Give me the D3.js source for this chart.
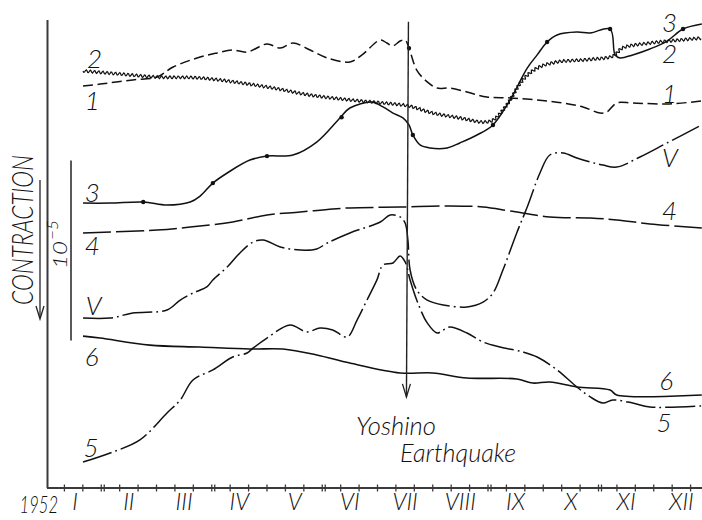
<!DOCTYPE html>
<html><head><meta charset="utf-8">
<script src="https://cdn.jsdelivr.net/npm/d3@7"></script>
<style>
html,body{margin:0;padding:0;background:#fff;}
svg{display:block;}
text{font-family:"Lato","DejaVu Sans Condensed",sans-serif;font-weight:300;font-style:italic;fill:#111;}
</style></head><body>
<svg id="chart" width="702" height="520"></svg>
<script>
// x: months since 1 Jan 1952 ; y: contraction in units of 1e-6 (downward = contraction)
const monthLabels = ["I","II","III","IV","V","VI","VII","VIII","IX","X","XI","XII"];
const yearLabel = "1952";
const quakeMonth = 6.56;
const quakeTop = 0.1, quakeTip = 20.94;
const scaleBarTop = 7.8, scaleBarLen = 10; // 10 x 1e-6 = 1e-5
const doubleTickMonths = [1,3,5,8,10];

const curve1 = [[0.67,3.67],[0.98,3.56],[1.57,3.33],[2.01,3.17],[2.30,2.61],[2.79,2.06],[3.10,1.83],[3.38,1.67],[3.64,1.78],[4.00,1.33],[4.24,1.56],[4.47,1.28],[4.78,1.67],[5.09,2.11],[5.50,2.33],[5.72,1.94],[6.05,1.11],[6.17,1.28],[6.28,1.44],[6.41,1.17],[6.50,1.11],[6.57,1.56],[6.71,2.78],[6.90,3.44],[7.08,3.78],[7.31,3.78],[7.62,4.00],[7.98,4.28],[8.40,4.33],[8.89,4.44],[9.36,4.61],[9.72,4.83],[10.03,5.17],[10.15,5.11],[10.33,4.61],[10.62,4.61],[11.24,4.67],[11.87,4.50]];
const curve2 = [[0.67,2.83],[1.34,3.00],[2.01,3.17],[2.79,3.22],[4.00,3.72],[4.78,4.17],[5.50,4.44],[6.10,4.61],[6.57,4.78],[7.00,5.17],[7.49,5.44],[7.91,5.67],[8.09,5.56],[8.34,4.72],[8.63,3.33],[8.89,2.67],[9.25,2.33],[9.72,2.22],[10.21,2.06],[10.30,1.94],[10.43,1.56],[10.93,1.28],[11.48,1.11],[11.87,1.00]];
const curve3 = [[0.67,10.17],[1.16,10.17],[1.76,10.11],[2.19,10.28],[2.61,10.11],[2.79,9.78],[3.02,9.06],[3.28,8.50],[3.69,7.78],[4.00,7.56],[4.47,7.50],[4.90,6.78],[5.32,5.44],[5.50,4.89],[5.90,4.56],[6.10,4.83],[6.28,5.17],[6.46,5.44],[6.57,5.83],[6.64,6.39],[6.77,6.94],[6.95,7.11],[7.26,7.11],[7.49,6.83],[7.80,6.39],[8.09,5.83],[8.40,4.44],[8.71,2.67],[8.89,1.94],[9.07,1.22],[9.25,0.83],[9.61,0.67],[9.85,0.72],[10.21,0.50],[10.30,1.94],[10.39,2.11],[10.62,1.94],[10.93,1.61],[11.24,1.17],[11.53,0.50],[11.87,0.22]];
const curve3Dots = [[1.76,10.11],[3.02,9.06],[4.00,7.56],[5.35,5.40],[6.64,6.39],[8.09,5.83],[9.07,1.22],[10.21,0.50],[11.53,0.50]];
const curve1Dots = [[6.57,1.56]];
const curve4 = [[0.67,11.83],[2.01,11.67],[2.61,11.50],[3.38,11.22],[4.00,10.83],[4.60,10.67],[5.19,10.50],[5.50,10.44],[6.41,10.39],[7.31,10.33],[7.91,10.39],[8.40,10.61],[9.12,10.94],[9.85,11.00],[10.33,11.11],[10.93,11.33],[11.87,11.56]];
const curveV = [[0.67,16.56],[1.16,16.56],[1.57,16.28],[2.19,16.11],[2.43,15.56],[2.66,15.17],[2.91,14.83],[3.02,14.44],[3.28,13.72],[3.51,12.94],[3.75,12.33],[3.93,12.22],[4.24,12.61],[4.60,12.78],[4.90,12.72],[5.09,12.39],[5.50,11.83],[6.05,11.22],[6.23,10.83],[6.41,10.94],[6.50,11.28],[6.55,12.22],[6.59,13.89],[6.71,15.00],[6.90,15.56],[7.19,15.83],[7.62,15.94],[7.91,15.67],[8.09,15.17],[8.27,13.89],[8.52,11.83],[8.71,10.39],[8.94,8.50],[9.12,7.50],[9.36,7.39],[9.61,7.67],[9.85,7.89],[10.08,8.06],[10.33,8.17],[10.75,7.61],[11.24,6.83],[11.87,5.83]];
const curve5 = [[0.67,24.56],[1.21,24.00],[1.70,23.33],[2.19,21.83],[2.43,21.11],[2.66,20.00],[3.02,19.44],[3.38,18.72],[3.64,18.50],[3.75,18.22],[4.00,17.67],[4.42,16.94],[4.72,17.33],[4.96,17.11],[5.19,17.22],[5.45,17.61],[5.63,16.67],[5.81,15.56],[5.99,14.44],[6.10,13.61],[6.28,13.50],[6.41,13.11],[6.50,13.44],[6.59,14.44],[6.71,15.56],[6.90,16.83],[7.08,17.39],[7.19,17.22],[7.31,17.06],[7.62,17.39],[7.91,17.89],[8.22,18.17],[8.63,18.44],[8.89,18.72],[9.25,19.44],[9.61,20.39],[9.85,20.94],[10.08,21.28],[10.26,21.11],[10.62,21.28],[10.93,21.50],[11.87,21.44]];
const curve6 = [[0.67,17.56],[0.98,17.67],[1.88,18.06],[2.79,18.17],[3.69,18.28],[4.29,18.28],[4.90,18.61],[5.50,19.06],[6.41,19.61],[7.00,19.61],[7.62,19.89],[8.52,19.94],[8.81,20.17],[9.12,20.11],[9.61,20.39],[10.21,20.56],[10.33,20.83],[11.87,20.83]];

const leftLabels = [["2",0.74,2.67],["1",0.70,5.00],["3",0.70,10.11],["4",0.70,13.06],["V",0.72,16.39],["6",0.70,19.22],["5",0.68,24.28]];
const rightLabels = [["3",11.15,0.67],["2",11.15,2.39],["1",11.15,4.61],["V",11.15,8.17],["4",11.15,11.11],["6",11.10,20.56],["5",11.05,22.89]];

const svg = d3.select("#chart");
const x = d3.scaleLinear().domain([0,12]).range([46,709]);
const y = d3.scaleLinear().domain([0,26]).range([20,488]);

const line = d3.line().x(d=>x(d[0])).y(d=>y(d[1])).curve(d3.curveCatmullRom.alpha(0.5));

// axes frame
const axisColor = "#3a3a3a";
svg.append("line").attr("x1",47.5).attr("x2",47.5).attr("y1",y(0)).attr("y2",y(26)).attr("stroke",axisColor).attr("stroke-width",2);
svg.append("line").attr("x1",47).attr("x2",702).attr("y1",y(26)).attr("y2",y(26)).attr("stroke",axisColor).attr("stroke-width",2);

// ticks every third of a month
const ticks = d3.range(0,37).map(k=>k/3);
svg.append("g").selectAll("line").data(ticks.filter(t=>t>0.1)).join("line")
  .attr("x1",d=>x(d)).attr("x2",d=>x(d)).attr("y1",y(26)-3.5).attr("y2",y(26)+3.5)
  .attr("stroke",axisColor).attr("stroke-width",1.3);
svg.append("g").selectAll("line").data(doubleTickMonths).join("line")
  .attr("x1",d=>x(d)+3).attr("x2",d=>x(d)+3).attr("y1",y(26)-3.5).attr("y2",y(26)+3.5)
  .attr("stroke",axisColor).attr("stroke-width",1.3);

// month labels
svg.append("g").selectAll("text").data(monthLabels).join("text")
  .attr("x",(d,i)=>x(i+0.5)+(i===0?1.5:0)).attr("y",510).attr("text-anchor","middle")
  .attr("font-size",23).text(d=>d);
svg.append("text").attr("transform","translate(58,513) scale(0.72,1)").attr("text-anchor","end")
  .attr("font-size",23).text(yearLabel);

// CONTRACTION label + arrow
svg.append("text").attr("transform",`translate(33,${230}) rotate(-90)`).attr("text-anchor","middle")
  .attr("font-size",29).attr("textLength",150).attr("lengthAdjust","spacingAndGlyphs").text("CONTRACTION");
svg.append("line").attr("x1",40).attr("x2",40).attr("y1",180).attr("y2",318).attr("stroke","#222").attr("stroke-width",1.3);
svg.append("path").attr("d","M36,306 L40,319 L44,306").attr("fill","none").attr("stroke","#222").attr("stroke-width",1.3);

// scale bar 10^-5
svg.append("line").attr("x1",71).attr("x2",71).attr("y1",y(scaleBarTop)).attr("y2",y(scaleBarTop+scaleBarLen)).attr("stroke","#222").attr("stroke-width",1.5);
svg.append("text").attr("transform","translate(67,269) rotate(-90)").attr("font-size",20)
  .attr("textLength",28).attr("lengthAdjust","spacingAndGlyphs").text("10");
svg.append("text").attr("transform","translate(58,240) rotate(-90)").attr("font-size",16)
  .attr("textLength",20).attr("lengthAdjust","spacingAndGlyphs").text("−5");

// curves
const ink = "#111";
function draw(data, dash, sw){
  return svg.append("path").attr("d",line(data)).attr("fill","none").attr("stroke",ink)
    .attr("stroke-width",sw||1.5).attr("stroke-dasharray",dash||null).attr("stroke-linejoin","round");
}
draw(curve1,"10,4.5");
draw(curve3,null);
draw(curve4,"28,5");
draw(curveV,"30,4,1.8,4");
draw(curve5,"30,4,1.8,4");
draw(curve6,null,1.6);

// wavy curve 2
const base2 = svg.append("path").attr("d",line(curve2)).attr("fill","none").attr("stroke","none");
(function(){
  const node = base2.node(); const L = node.getTotalLength(); const pts=[];
  for(let s=0;s<=L;s+=0.8){
    const p=node.getPointAtLength(s);
    const a=node.getPointAtLength(Math.max(0,s-0.6)), b=node.getPointAtLength(Math.min(L,s+0.6));
    const dx=b.x-a.x, dy=b.y-a.y, n=Math.hypot(dx,dy)||1;
    const off=1.4*Math.sin(2*Math.PI*s/4.2);
    pts.push([p.x-dy/n*off, p.y+dx/n*off]);
  }
  svg.append("path").attr("d",d3.line()(pts)).attr("fill","none").attr("stroke",ink).attr("stroke-width",1.2);
})();

// dots
svg.append("g").selectAll("circle").data(curve3Dots.concat(curve1Dots)).join("circle")
  .attr("cx",d=>x(d[0])).attr("cy",d=>y(d[1])).attr("r",2.2).attr("fill",ink);

// earthquake arrow
svg.append("line").attr("x1",x(quakeMonth)).attr("x2",x(quakeMonth)-2).attr("y1",y(quakeTop)).attr("y2",y(quakeTip))
  .attr("stroke","#222").attr("stroke-width",1.4);
const tx = x(quakeMonth)-2, ty = y(quakeTip);
svg.append("path").attr("d",`M${tx-4},${ty-13} L${tx},${ty} L${tx+4},${ty-13}`).attr("fill","none").attr("stroke","#222").attr("stroke-width",1.3);
svg.append("text").attr("x",356).attr("y",435).attr("font-size",25).attr("textLength",80).attr("lengthAdjust","spacingAndGlyphs").text("Yoshino");
svg.append("text").attr("x",400).attr("y",462).attr("font-size",25).attr("textLength",116).attr("lengthAdjust","spacingAndGlyphs").text("Earthquake");

// curve labels
svg.append("g").selectAll("text").data(leftLabels.concat(rightLabels)).join("text")
  .attr("x",d=>x(d[1])).attr("y",d=>y(d[2])).attr("font-size",26).text(d=>d[0]);
</script>
</body></html>
